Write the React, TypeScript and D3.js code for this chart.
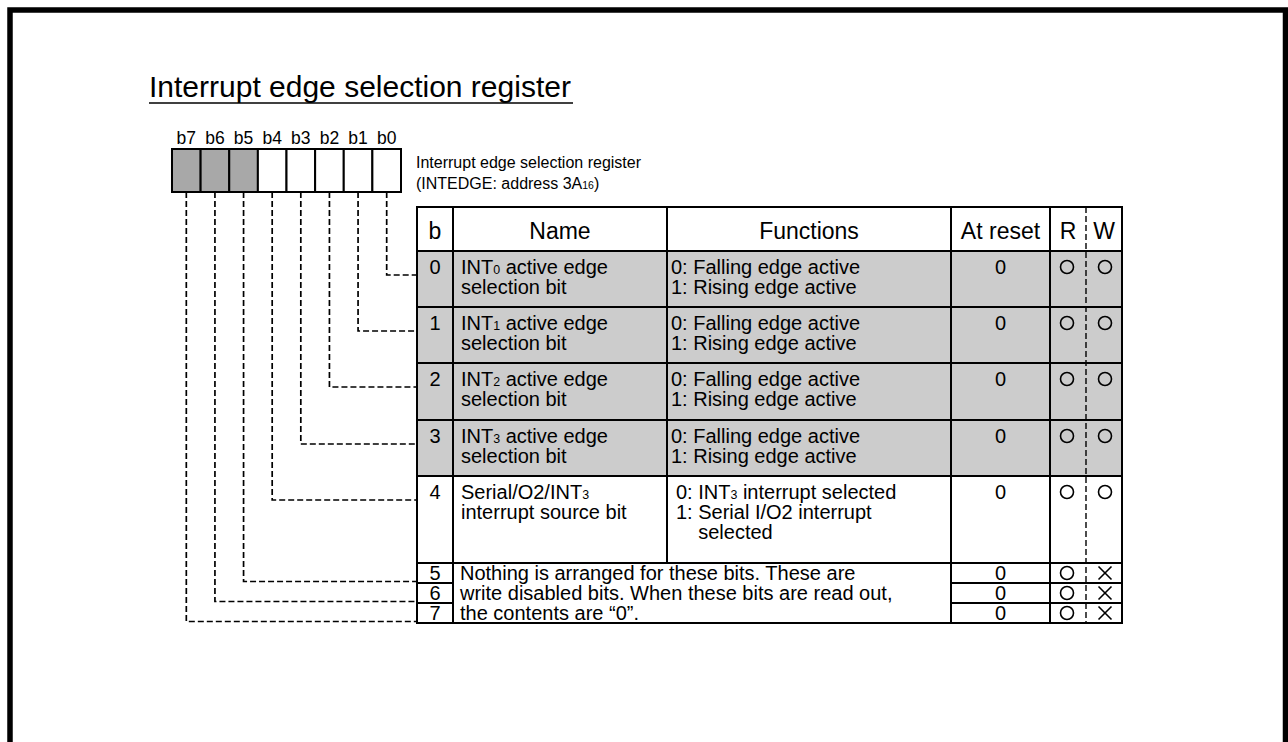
import React from "react";
import * as d3 from "d3";

// register bits, left to right as drawn
const bitLabels = ["b7", "b6", "b5", "b4", "b3", "b2", "b1", "b0"];
const reservedBits = ["b7", "b6", "b5"];

// table rows (bit number order)
const rowBits = ["0", "1", "2", "3", "4", "5", "6", "7"];
const rowNames = [
  ["INT_0 active edge", "selection bit"],
  ["INT_1 active edge", "selection bit"],
  ["INT_2 active edge", "selection bit"],
  ["INT_3 active edge", "selection bit"],
  ["Serial/O2/INT_3", "interrupt source bit"],
];
const rowFunctions = [
  ["0: Falling edge active", "1: Rising edge active"],
  ["0: Falling edge active", "1: Rising edge active"],
  ["0: Falling edge active", "1: Rising edge active"],
  ["0: Falling edge active", "1: Rising edge active"],
  ["0: INT_3 interrupt selected", "1: Serial I/O2 interrupt", "    selected"],
];
const reservedNote = [
  "Nothing is arranged for these bits. These are",
  "write disabled bits. When these bits are read out,",
  "the contents are \u201c0\u201d.",
];
const atReset = ["0", "0", "0", "0", "0", "0", "0", "0"];
const readable = ["O", "O", "O", "O", "O", "O", "O", "O"];
const writable = ["O", "O", "O", "O", "O", "X", "X", "X"];
const shadedRows = ["0", "1", "2", "3"];
const headers = ["b", "Name", "Functions", "At reset"];

const FONT = "'Liberation Sans', Arial, Helvetica, sans-serif";

// split "INT_0 x" into normal / subscript pieces
function RichText({ s, x, y, size, anchor = "start" }: any) {
  const parts: { t: string; sub: boolean }[] = [];
  const re = /_(\w)/g;
  let last = 0;
  let m;
  while ((m = re.exec(s))) {
    if (m.index > last) parts.push({ t: s.slice(last, m.index), sub: false });
    parts.push({ t: m[1], sub: true });
    last = m.index + m[0].length;
  }
  if (last < s.length) parts.push({ t: s.slice(last), sub: false });
  return (
    <text x={x} y={y} fontSize={size} textAnchor={anchor} fontFamily={FONT} style={{ whiteSpace: "pre" }}>
      {parts.map((p, i) => (
        <tspan key={i} fontSize={p.sub ? size * 0.62 : size}>
          {p.t}
        </tspan>
      ))}
    </text>
  );
}

function Mark({ kind, cx, cy }: { kind: string; cx: number; cy: number }) {
  if (kind === "O")
    return <circle cx={cx} cy={cy} r={6.5} fill="none" stroke="#000" strokeWidth={1.6} />;
  const h = 6.5;
  return (
    <g stroke="#000" strokeWidth={1.6}>
      <line x1={cx - h} y1={cy - h} x2={cx + h} y2={cy + h} />
      <line x1={cx - h} y1={cy + h} x2={cx + h} y2={cy - h} />
    </g>
  );
}

export default function App() {
  // register boxes
  const xBit = d3.scaleBand().domain(bitLabels).range([172, 401]);
  const boxTop = 149;
  const boxBottom = 192;

  // table layout
  const colEdges = [417, 453, 667, 951, 1050, 1122];
  const rwSplit = 1086;
  const tableTop = 207;
  const headerH = 44;
  const rowHeights = [56, 56, 57, 56, 87, 20, 20, 20];
  const rowTops: number[] = [];
  let acc = tableTop + headerH;
  rowHeights.forEach((h) => {
    rowTops.push(acc);
    acc += h;
  });
  const tableBottom = acc;
  const yRow = (b: string) => rowTops[rowBits.indexOf(b)];
  const hRow = (b: string) => rowHeights[rowBits.indexOf(b)];

  const dash = "6,3";
  const cellSize = 20;
  const headSize = 23;

  return (
    <svg
      width={1288}
      height={742}
      style={{ position: "absolute", left: 0, top: 0, background: "#fff" }}
    >
      <rect x={10} y={10} width={1275.5} height={820} fill="#fff" stroke="#000" strokeWidth={5.5} />

      {/* title */}
      <text x={149} y={97} fontSize={30} fontFamily={FONT}>
        Interrupt edge selection register
      </text>
      <line x1={149} x2={573} y1={103} y2={103} stroke="#000" strokeWidth={1.5} />

      {/* bit labels & boxes */}
      {bitLabels.map((b) => (
        <g key={b}>
          <text
            x={xBit(b)! + xBit.bandwidth() / 2}
            y={144}
            fontSize={17.5}
            textAnchor="middle"
            fontFamily={FONT}
          >
            {b}
          </text>
          <rect
            x={xBit(b)}
            y={boxTop}
            width={xBit.bandwidth()}
            height={boxBottom - boxTop}
            fill={reservedBits.includes(b) ? "#a8a8a8" : "#fff"}
            stroke="#000"
            strokeWidth={2}
          />
        </g>
      ))}

      <text x={416} y={168} fontSize={16} fontFamily={FONT}>
        Interrupt edge selection register
      </text>
      <text x={416} y={189} fontSize={16} fontFamily={FONT}>
        (INTEDGE: address 3A<tspan fontSize={10.5}>16</tspan>)
      </text>

      {/* leaders */}
      {rowBits.map((rb) => {
        const b = "b" + rb;
        const x = xBit(b)! + xBit.bandwidth() / 2;
        const y = yRow(rb) + Math.min(24, hRow(rb) - 1.5);
        return (
          <path
            key={b}
            d={`M${x},${boxBottom} V${y} H${colEdges[0]}`}
            fill="none"
            stroke="#000"
            strokeWidth={1.7}
            strokeDasharray={dash}
          />
        );
      })}

      {/* row backgrounds */}
      {rowBits.map((rb) => (
        <rect
          key={"bg" + rb}
          x={colEdges[0]}
          y={yRow(rb)}
          width={colEdges[5] - colEdges[0]}
          height={hRow(rb)}
          fill={shadedRows.includes(rb) ? "#cccccc" : "#fff"}
        />
      ))}

      {/* header */}
      {headers.map((h, i) => (
        <text
          key={h}
          x={(colEdges[i] + colEdges[i + 1]) / 2}
          y={tableTop + 32}
          fontSize={headSize}
          textAnchor="middle"
          fontFamily={FONT}
        >
          {h}
        </text>
      ))}
      <text x={(colEdges[4] + rwSplit) / 2} y={tableTop + 32} fontSize={headSize} textAnchor="middle" fontFamily={FONT}>
        R
      </text>
      <text x={(rwSplit + colEdges[5]) / 2} y={tableTop + 32} fontSize={headSize} textAnchor="middle" fontFamily={FONT}>
        W
      </text>

      {/* row contents */}
      {rowBits.map((rb, i) => {
        const top = yRow(rb);
        const small = i >= rowNames.length;
        const base = small ? top + 16.5 : top + 23;
        const markY = small ? top + 10 : top + 16;
        return (
          <g key={"row" + rb}>
            <text x={(colEdges[0] + colEdges[1]) / 2} y={base} fontSize={cellSize} textAnchor="middle" fontFamily={FONT}>
              {rb}
            </text>
            {!small &&
              rowNames[i].map((s, k) => (
                <RichText key={k} s={s} x={colEdges[1] + 8} y={base + k * 20} size={cellSize} />
              ))}
            {!small &&
              rowFunctions[i].map((s, k) => (
                <RichText
                  key={k}
                  s={s}
                  x={colEdges[2] + (i === 4 ? 9 : 4)}
                  y={base + k * 20}
                  size={cellSize}
                />
              ))}
            <text x={(colEdges[3] + colEdges[4]) / 2} y={base} fontSize={cellSize} textAnchor="middle" fontFamily={FONT}>
              {atReset[i]}
            </text>
            <Mark kind={readable[i]} cx={(colEdges[4] + rwSplit) / 2 - 1} cy={markY} />
            <Mark kind={writable[i]} cx={(rwSplit + colEdges[5]) / 2 + 1} cy={markY} />
          </g>
        );
      })}

      {/* merged note for reserved bits */}
      {reservedNote.map((s, k) => (
        <text
          key={"note" + k}
          x={colEdges[1] + 7}
          y={yRow("5") + 16.5 + k * 20}
          fontSize={cellSize}
          fontFamily={FONT}
        >
          {s}
        </text>
      ))}

      {/* grid lines */}
      <g stroke="#000" strokeWidth={2} fill="none">
        <rect
          x={colEdges[0]}
          y={tableTop}
          width={colEdges[5] - colEdges[0]}
          height={tableBottom - tableTop}
        />
        <line x1={colEdges[0]} x2={colEdges[5]} y1={tableTop + headerH} y2={tableTop + headerH} />
        {rowBits.slice(1).map((rb) => {
          const y = yRow(rb);
          const merged = Number(rb) >= 6;
          return merged ? (
            <g key={"h" + rb}>
              <line x1={colEdges[0]} x2={colEdges[1]} y1={y} y2={y} />
              <line x1={colEdges[3]} x2={colEdges[5]} y1={y} y2={y} />
            </g>
          ) : (
            <line key={"h" + rb} x1={colEdges[0]} x2={colEdges[5]} y1={y} y2={y} />
          );
        })}
        {[1, 3, 4].map((c) => (
          <line key={"v" + c} x1={colEdges[c]} x2={colEdges[c]} y1={tableTop} y2={tableBottom} />
        ))}
        <line x1={colEdges[2]} x2={colEdges[2]} y1={tableTop} y2={yRow("5")} />
        <line
          x1={rwSplit}
          x2={rwSplit}
          y1={tableTop}
          y2={tableBottom}
          strokeWidth={1.4}
          strokeDasharray={dash}
        />
      </g>
    </svg>
  );
}
